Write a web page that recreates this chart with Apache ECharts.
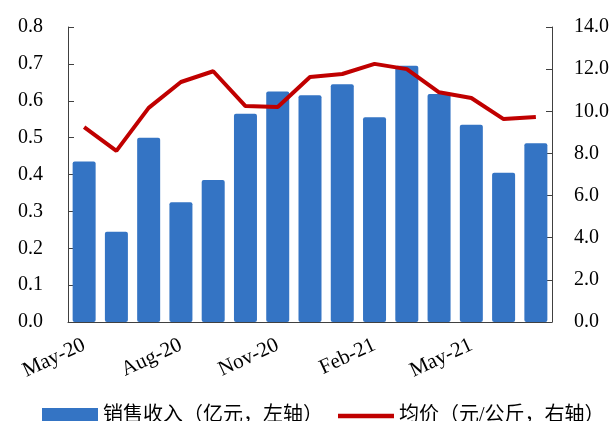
<!DOCTYPE html>
<html>
<head>
<meta charset="utf-8">
<script src="https://cdn.jsdelivr.net/npm/echarts@6/dist/echarts.min.js"></script>
<style>
  html, body { margin: 0; padding: 0; background: #fff; }
  #chart { width: 612px; height: 421px; }
</style>
</head>
<body>
<div id="chart"></div>
<script>
var months = ['May-20','Jun-20','Jul-20','Aug-20','Sep-20','Oct-20','Nov-20','Dec-20',
              'Jan-21','Feb-21','Mar-21','Apr-21','May-21','Jun-21','Jul-21'];
var revenue = [0.435, 0.245, 0.50, 0.325, 0.385, 0.565, 0.625, 0.615,
               0.645, 0.555, 0.695, 0.618, 0.535, 0.405, 0.485];
var avgPrice = [9.25, 8.12, 10.16, 11.39, 11.9, 10.25, 10.2, 11.63,
                11.77, 12.25, 12.0, 10.9, 10.63, 9.63, 9.73];

var serif = '"Liberation Serif", "Times New Roman", serif';
var cjk = '"Liberation Serif", "Noto Sans CJK SC", serif';

var myChart = echarts.init(document.getElementById('chart'));
myChart.setOption({
    animation: false,
    grid: { left: 68, right: 60, top: 27, bottom: 99 },
    legend: {
        top: 401,
        left: 37,
        itemGap: 15,
        textStyle: { fontFamily: cjk, fontSize: 20, color: '#000' },
        data: [
            { name: '销售收入（亿元，左轴）', icon: 'rect', itemStyle: { color: '#3474C4' } },
            { name: '均价（元/公斤，右轴）', icon: 'path://M0,0 L12,0 L12,1 L0,1 Z' }
        ],
        itemWidth: 56,
        itemHeight: 16
    },
    xAxis: {
        type: 'category',
        data: months,
        axisLine: { lineStyle: { color: '#404040' } },
        axisTick: { inside: true, length: 6, lineStyle: { color: '#404040' } },
        axisLabel: {
            interval: 2,
            rotate: 25,
            margin: 22,
            color: '#000',
            fontFamily: serif,
            fontSize: 21
        }
    },
    yAxis: [
        {
            type: 'value',
            min: 0, max: 0.8, interval: 0.1,
            splitLine: { show: false },
            axisLine: { show: true, lineStyle: { color: '#404040' } },
            axisTick: { show: true, inside: true, length: 6, lineStyle: { color: '#404040' } },
            axisLabel: {
                color: '#000', fontFamily: serif, fontSize: 20, margin: 25,
                formatter: function (v) { return v.toFixed(1); }
            }
        },
        {
            type: 'value',
            min: 0, max: 14, interval: 2,
            splitLine: { show: false },
            axisLine: { show: true, lineStyle: { color: '#404040' } },
            axisTick: { show: true, inside: true, length: 6, lineStyle: { color: '#404040' } },
            axisLabel: {
                color: '#000', fontFamily: serif, fontSize: 20, margin: 22,
                formatter: function (v) { return v.toFixed(1); }
            }
        }
    ],
    series: [
        {
            name: '销售收入（亿元，左轴）',
            type: 'bar',
            data: revenue,
            barWidth: 23,
            itemStyle: { color: '#3474C4', borderRadius: 2 }
        },
        {
            name: '均价（元/公斤，右轴）',
            type: 'line',
            yAxisIndex: 1,
            data: avgPrice,
            symbol: 'none',
            lineStyle: { color: '#C00000', width: 4 },
            itemStyle: { color: '#C00000' }
        }
    ]
});
</script>
</body>
</html>
